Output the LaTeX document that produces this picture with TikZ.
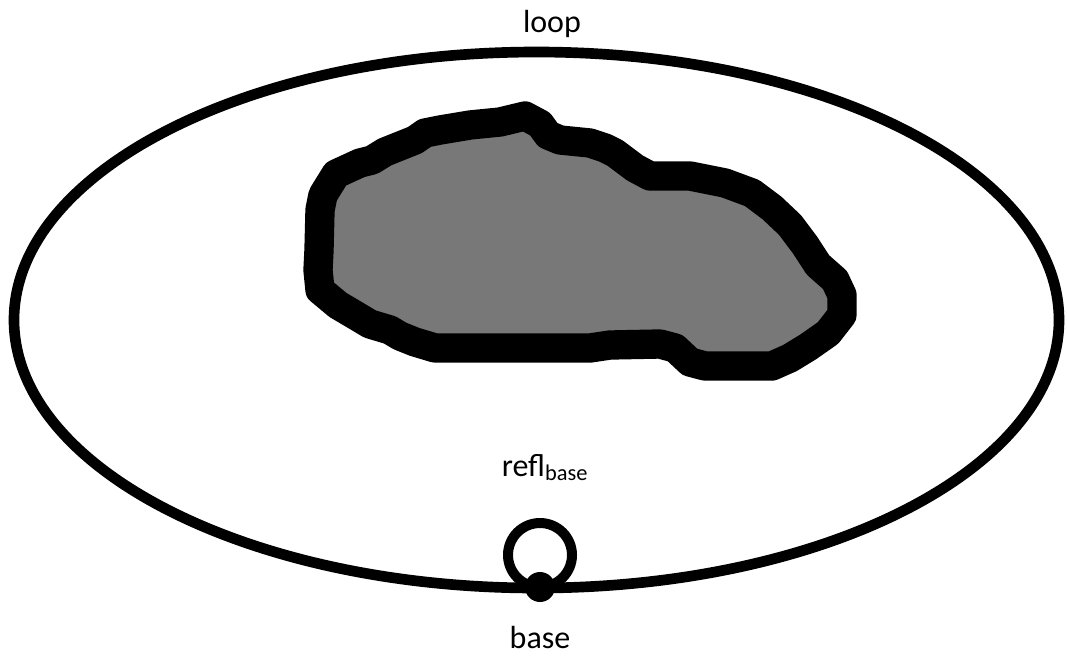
\documentclass[tikz,border=0pt]{standalone}
\usepackage{fontspec}
\setmainfont{Carlito}
\begin{document}
\begin{tikzpicture}[x=0.75pt,y=-0.75pt,
  outline/.style={line width=8pt,draw=black},
  blob/.style={line width=22pt,draw=black,fill=black!53,line join=round,line cap=round},
  lbl/.style={font=\fontsize{24}{28}\selectfont,anchor=base,inner sep=0pt}]
\useasboundingbox (0,0) rectangle (1067,658);
\draw[outline] (536.5,320) ellipse [x radius=522.5, y radius=268];
\draw[blob] (320,290) -- (318,270) -- (319,250) -- (320,210) -- (323,195) -- (336,174)
  -- (360,163) -- (372,160) -- (385,152) -- (415,140) -- (425,133) -- (440,130) -- (470,125) -- (500,122)
  -- (525,116) -- (540,124) -- (548,135) -- (560,140) -- (590,143) -- (605,148) -- (615,153)
  -- (635,168) -- (650,176) -- (690,176) -- (725,183) -- (752,193) -- (772,208)
  -- (790,225) -- (805,245) -- (818,265) -- (835,280) -- (842,295) -- (842,315)
  -- (828,333) -- (808,347) -- (790,358) -- (772,366) -- (705,366) -- (690,362)
  -- (675,348) -- (660,344) -- (610,345) -- (590,348) -- (435,348) -- (415,342)
  -- (400,336) -- (390,330) -- (370,324) -- (360,318) -- (338,305) -- cycle;
\node[lbl] (loop) at (552,32) {loop};
\node[lbl] (refl) at (545,476) {refl\textsubscript{base}};
\node[circle,draw=black,line width=7.5pt,minimum size=48pt,inner sep=0pt] (rc) at (540,555) {};
\node[circle,fill=black,minimum size=22.5pt,inner sep=0pt] (base) at (540,587) {};
\node[lbl] (baselbl) at (540,648) {base};
\end{tikzpicture}
\end{document}
